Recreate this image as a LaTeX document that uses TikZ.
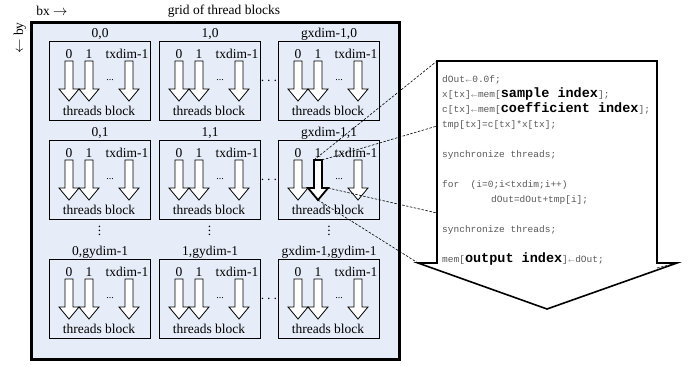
\documentclass[tikz,border=0pt]{standalone}
\usepackage{fontspec}
\setmainfont{Liberation Serif}
\newfontfamily\codefont{Liberation Mono}
\usetikzlibrary{positioning, calc}

\definecolor{gridbg}{RGB}{230,237,248}
% outline of one thread arrow, local block coordinates
\newcommand{\threadpath}[1]{({#1-4},20) -- ({#1+4},20) -- ({#1+4},48) -- ({#1+10},48) -- (#1,60) -- ({#1-10},48) -- ({#1-4},48) -- cycle}
\newcommand{\la}{{\fontsize{6.5}{7}\selectfont$\leftarrow$}}
\newcommand{\kw}[1]{{\color{black}\fontsize{13.5}{15}\selectfont\bfseries #1}}

\begin{document}
\begin{tikzpicture}[x=1pt, y=-1pt,
    lbl/.style={font=\fontsize{13.5}{15}\selectfont, inner sep=0pt},
    gridbox/.style={draw, line width=2.5pt, fill=gridbg, anchor=north west, minimum width=368pt, minimum height=337pt, inner sep=0pt},
    blockbox/.style={draw, line width=1.2pt, fill=gridbg, anchor=north west, minimum width=101pt, minimum height=79pt, inner sep=0pt},
    thread/.style={draw, fill=white, line width=0.8pt},
    chosen/.style={thread, line width=1.8pt},
    bigarrow/.style={draw, fill=white, line width=1.6pt},
    link/.style={dash pattern=on 2.5pt off 1.5pt, line width=0.6pt},
    code/.style={font=\codefont\fontsize{9.5}{15}\selectfont, text=black!65, align=left, anchor=north west, inner sep=0pt}
]
\useasboundingbox (0,0) rectangle (691,365);

% grid of thread blocks
\node[gridbox] (grid) at (30,21) {};
\node[lbl] (title) at (224,11) {grid of thread blocks};
\node[lbl] (bx) at (52,11) {bx $\rightarrow$};
\node[lbl, rotate=90] (by) at (20,38) {$\leftarrow$ by};

\foreach \c/\x/\cn in {0/49/0, 1/159/1, 2/278/gxdim-1}
  \foreach \r/\y/\rn in {0/41/0, 1/140/1, 2/259/gydim-1} {
    \node[blockbox] (b\c\r) at (\x,\y) {};
    \node[lbl, anchor=base] (l\c\r) at ($(b\c\r.north)+(0,-4)$) {\cn,\rn};
    \begin{scope}[shift={(b\c\r.north west)}]
      \foreach \tx in {20,40,80}
        \draw[thread] \threadpath{\tx};
      \node[lbl, anchor=base] (da\c\r) at (20,17) {0};
      \node[lbl, anchor=base] (db\c\r) at (40,17) {1};
      \node[lbl, anchor=base] (dn\c\r) at (78,17) {txdim-1};
      \node[inner sep=0pt, anchor=base, font=\fontsize{10}{10}\selectfont] (e\c\r) at (61,39) {...};
      \node[lbl, anchor=base] (tb\c\r) at (50,74) {threads block};
    \end{scope}
  }

% dots between blocks
\foreach \r/\y in {0/41, 1/140, 2/259}
  \node[lbl] (hd\r) at (269,\y+40) {$\cdots$};
\foreach \c/\x in {0/99.5, 1/209.5, 2/329}
  \node[lbl] (vd\c) at (\x,235) {\smash{$\vdots$}};

% the chosen thread
\begin{scope}[shift={(b21.north west)}]
  \draw[chosen] \threadpath{40};
  \coordinate (hs1) at (36,20);
  \coordinate (hs2) at (44,20);
  \coordinate (hh) at (50,48);
  \coordinate (ht) at (40,60);
\end{scope}

% kernel of one thread
\coordinate (sa) at (437,61);
\coordinate (sb) at (657,61);
\coordinate (sc) at (657,263);
\coordinate (hr) at (677,263);
\coordinate (tip) at (547,309);
\coordinate (hl) at (418,263);
\coordinate (sd) at (437,263);
\coordinate (in1) at (437,126);
\coordinate (in2) at (437,213);
\coordinate (nub) at (657,268);
\draw[bigarrow] (sa) -- (sb) -- (sc) -- (hr) -- (tip) -- (hl) -- (sd) -- cycle;

\node[code] (kernel) at (442,71.5) {\strut dOut\la0.0f;\\
x[tx]\la mem[\kw{sample index}];\\
c[tx]\la mem[\kw{coefficient index}];\\
tmp[tx]=c[tx]*x[tx];\\[15pt]
synchronize threads;\\[15pt]
for~~(i=0;i<txdim;i++)\\
\hspace*{49pt}dOut=dOut+tmp[i];\\[15pt]
synchronize threads;\\[15pt]
mem[\kw{output index}]\la dOut;};

\draw[link] (hs1) -- (sa);
\draw[link] (hs2) -- (in1);
\draw[link] (hh) -- (in2);
\draw[link] (ht) -- (hl);
\draw[link] (nub) -- (hr);
\end{tikzpicture}
\end{document}
